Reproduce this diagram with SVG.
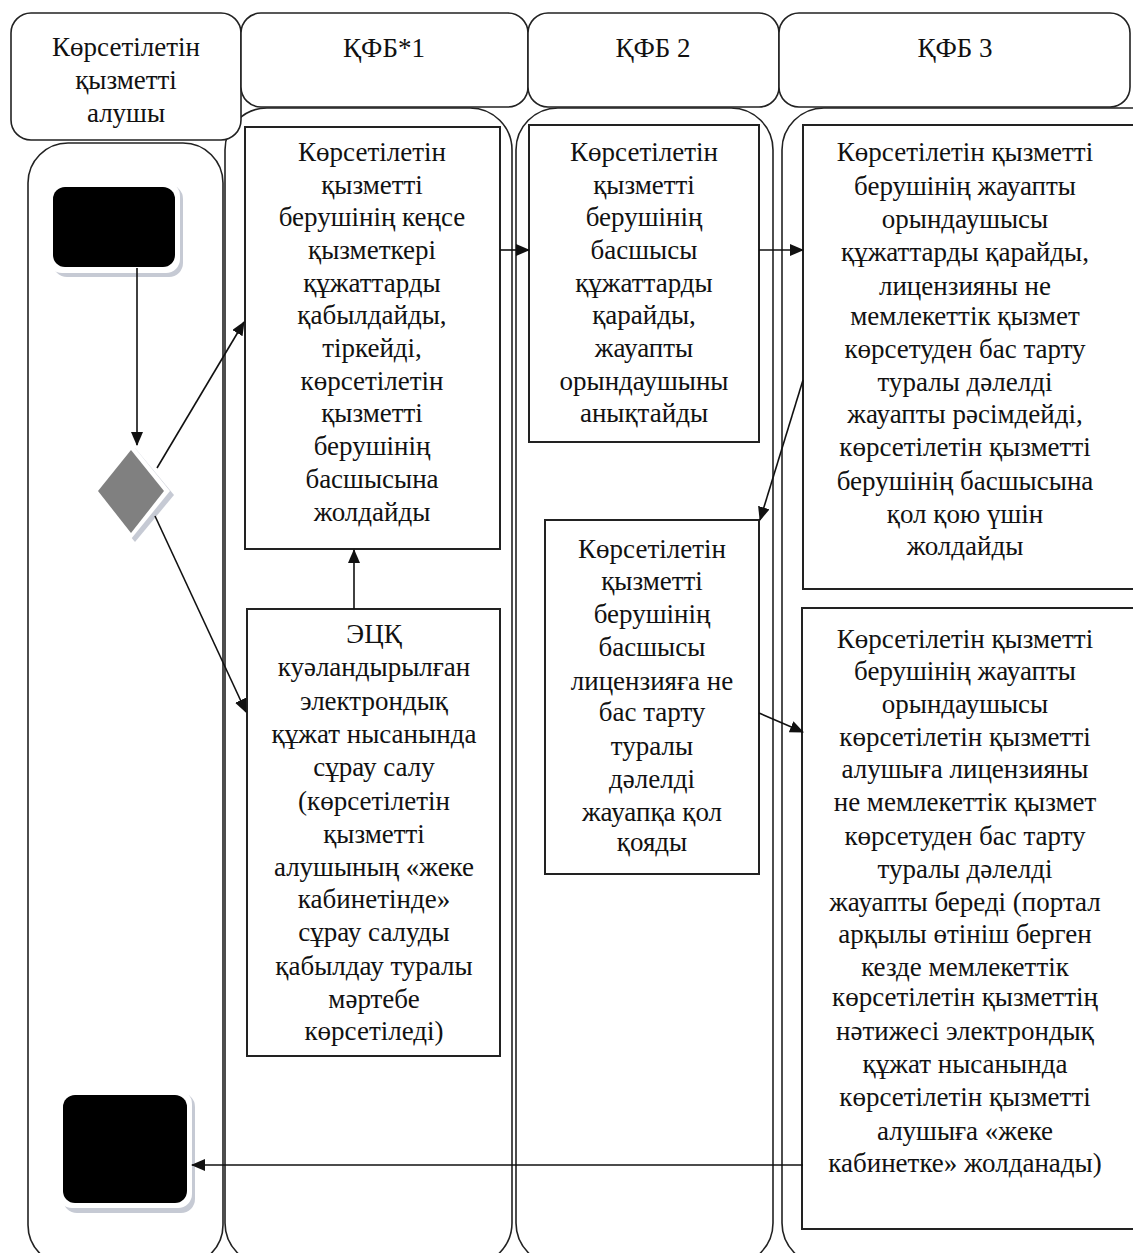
<svg xmlns="http://www.w3.org/2000/svg" width="1133" height="1253" viewBox="0 0 1133 1253">
<defs>
<style>
.lane{fill:#fff;stroke:#222;stroke-width:1.6}
.hdr{fill:#fff;stroke:#222;stroke-width:1.6}
.box{fill:#fff;stroke:#222;stroke-width:2}
.t{font-family:"Liberation Serif","Times New Roman",serif;font-size:27px;fill:#111;text-anchor:middle}
.c{fill:none;stroke:#111;stroke-width:1.6}
</style>
<marker id="ah" markerUnits="userSpaceOnUse" markerWidth="14" markerHeight="12" refX="13" refY="6" orient="auto">
<path d="M0,0 L14,6 L0,12 Z" fill="#111"/>
</marker>
</defs>
<rect width="1133" height="1253" fill="#fff"/>
<g id="lanes">
<rect id="lane1" class="lane" x="28" y="143" width="195" height="1122" rx="40"/>
<rect id="lane2" class="lane" x="225" y="108" width="287" height="1157" rx="42"/>
<rect id="lane3" class="lane" x="516" y="108" width="257" height="1157" rx="42"/>
<rect id="lane4" class="lane" x="782" y="108" width="400" height="1157" rx="42"/>
</g>
<g id="headers">
<g id="h1"><rect class="hdr" x="11" y="13" width="230" height="127" rx="20"/>
<text class="t" x="126" y="56">Көрсетілетін</text><text class="t" x="126" y="89">қызметті</text><text class="t" x="126" y="122">алушы</text></g>
<g id="h2"><rect class="hdr" x="241" y="13" width="287" height="94" rx="20"/><text class="t" x="384" y="57">ҚФБ*1</text></g>
<g id="h3"><rect class="hdr" x="528" y="13" width="251" height="94" rx="20"/><text class="t" x="653" y="57">ҚФБ 2</text></g>
<g id="h4"><rect class="hdr" x="779" y="13" width="351" height="94" rx="20"/><text class="t" x="955" y="57">ҚФБ 3</text></g>
</g>
<g id="start">
<rect x="53" y="185" width="130" height="92" rx="14" fill="#c6cad4"/>
<rect x="48" y="182" width="132" height="91" rx="14" fill="#fff"/>
<rect x="53" y="187" width="122" height="80" rx="12" fill="#000"/>
</g>
<g id="decision">
<polygon points="135,448 174,495 135,542 96,495" fill="#c6cad4"/>
<polygon points="131,443 170,491 131,539 92,491" fill="#fff"/>
<polygon points="131,450 164,491 131,533 98,491" fill="#808080"/>
</g>
<g id="end">
<rect x="63" y="1093" width="132" height="120" rx="14" fill="#c6cad4"/>
<rect x="58" y="1090" width="134" height="118" rx="14" fill="#fff"/>
<rect x="63" y="1095" width="124" height="108" rx="12" fill="#000"/>
</g>
<g id="box1"><rect class="box" x="245" y="127" width="255" height="422"/>
<text class="t"><tspan x="372" y="161">Көрсетілетін</tspan><tspan x="372" y="194">қызметті</tspan><tspan x="372" y="226">берушінің кеңсе</tspan><tspan x="372" y="259">қызметкері</tspan><tspan x="372" y="292">құжаттарды</tspan><tspan x="372" y="324">қабылдайды,</tspan><tspan x="372" y="357">тіркейді,</tspan><tspan x="372" y="390">көрсетілетін</tspan><tspan x="372" y="422">қызметті</tspan><tspan x="372" y="455">берушінің</tspan><tspan x="372" y="488">басшысына</tspan><tspan x="372" y="521">жолдайды</tspan></text></g>
<g id="box2"><rect class="box" x="529" y="125" width="230" height="317"/>
<text class="t"><tspan x="644" y="161">Көрсетілетін</tspan><tspan x="644" y="194">қызметті</tspan><tspan x="644" y="226">берушінің</tspan><tspan x="644" y="259">басшысы</tspan><tspan x="644" y="292">құжаттарды</tspan><tspan x="644" y="324">қарайды,</tspan><tspan x="644" y="357">жауапты</tspan><tspan x="644" y="390">орындаушыны</tspan><tspan x="644" y="422">анықтайды</tspan></text></g>
<g id="box3"><rect class="box" x="803" y="125" width="360" height="464"/>
<text class="t"><tspan x="965" y="161">Көрсетілетін  қызметті</tspan><tspan x="965" y="195">берушінің жауапты</tspan><tspan x="965" y="228">орындаушысы</tspan><tspan x="965" y="261">құжаттарды  қарайды,</tspan><tspan x="965" y="295">лицензияны не</tspan><tspan x="965" y="325">мемлекеттік қызмет</tspan><tspan x="965" y="358">көрсетуден бас тарту</tspan><tspan x="965" y="391">туралы дәлелді</tspan><tspan x="965" y="423">жауапты рәсімдейді,</tspan><tspan x="965" y="456">көрсетілетін қызметті</tspan><tspan x="965" y="490">берушінің басшысына</tspan><tspan x="965" y="523">қол қою үшін</tspan><tspan x="965" y="555">жолдайды</tspan></text></g>
<g id="box4"><rect class="box" x="545" y="520" width="214" height="354"/>
<text class="t"><tspan x="652" y="558">Көрсетілетін</tspan><tspan x="652" y="590">қызметті</tspan><tspan x="652" y="623">берушінің</tspan><tspan x="652" y="656">басшысы</tspan><tspan x="652" y="690">лицензияға не</tspan><tspan x="652" y="721">бас  тарту</tspan><tspan x="652" y="755">туралы</tspan><tspan x="652" y="788">дәлелді</tspan><tspan x="652" y="821">жауапқа қол</tspan><tspan x="652" y="851">қояды</tspan></text></g>
<g id="box5"><rect class="box" x="247" y="609" width="253" height="447"/>
<text class="t"><tspan x="374" y="643">ЭЦҚ</tspan><tspan x="374" y="676">куәландырылған</tspan><tspan x="374" y="710">электрондық</tspan><tspan x="374" y="743">құжат нысанында</tspan><tspan x="374" y="776">сұрау  салу</tspan><tspan x="374" y="810">(көрсетілетін</tspan><tspan x="374" y="843">қызметті</tspan><tspan x="374" y="876">алушының  «жеке</tspan><tspan x="374" y="908">кабинетінде»</tspan><tspan x="374" y="941">сұрау  салуды</tspan><tspan x="374" y="975">қабылдау  туралы</tspan><tspan x="374" y="1008">мәртебе</tspan><tspan x="374" y="1040">көрсетіледі)</tspan></text></g>
<g id="box6"><rect class="box" x="802" y="608" width="360" height="621"/>
<text class="t"><tspan x="965" y="648">Көрсетілетін  қызметті</tspan><tspan x="965" y="680">берушінің жауапты</tspan><tspan x="965" y="713">орындаушысы</tspan><tspan x="965" y="746">көрсетілетін қызметті</tspan><tspan x="965" y="778">алушыға лицензияны</tspan><tspan x="965" y="811">не мемлекеттік қызмет</tspan><tspan x="965" y="845">көрсетуден бас тарту</tspan><tspan x="965" y="878">туралы дәлелді</tspan><tspan x="965" y="911">жауапты береді (портал</tspan><tspan x="965" y="943">арқылы өтініш берген</tspan><tspan x="965" y="976">кезде мемлекеттік</tspan><tspan x="965" y="1006">көрсетілетін қызметтің</tspan><tspan x="965" y="1040">нәтижесі электрондық</tspan><tspan x="965" y="1073">құжат нысанында</tspan><tspan x="965" y="1106">көрсетілетін қызметті</tspan><tspan x="965" y="1140">алушыға «жеке</tspan><tspan x="965" y="1172">кабинетке» жолданады)</tspan></text></g>
<g id="connectors">
<line class="c" x1="137" y1="268" x2="137" y2="445" marker-end="url(#ah)"/>
<line class="c" x1="157" y1="468" x2="244" y2="322" marker-end="url(#ah)"/>
<line class="c" x1="155" y1="516" x2="246" y2="712" marker-end="url(#ah)"/>
<line class="c" x1="500" y1="250" x2="529" y2="250" marker-end="url(#ah)"/>
<line class="c" x1="759" y1="250" x2="803" y2="250" marker-end="url(#ah)"/>
<line class="c" x1="803" y1="380" x2="760" y2="520" marker-end="url(#ah)"/>
<line class="c" x1="759" y1="713" x2="803" y2="732" marker-end="url(#ah)"/>
<line class="c" x1="354" y1="609" x2="354" y2="550" marker-end="url(#ah)"/>
<line class="c" x1="803" y1="1165" x2="192" y2="1165" marker-end="url(#ah)"/>
</g>
</svg>
